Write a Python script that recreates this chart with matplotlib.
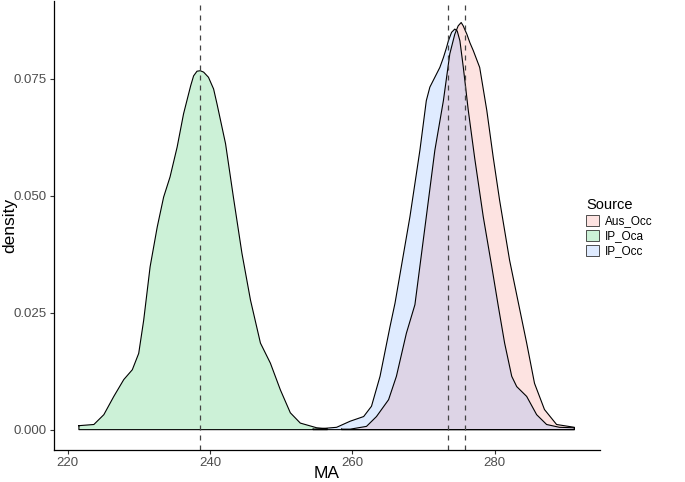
import matplotlib
matplotlib.use("Agg")
import matplotlib.pyplot as plt
from matplotlib.patches import Patch

plt.rcParams['font.family'] = ['Liberation Sans', 'DejaVu Sans']

# ---- data ----
sources = ["Aus_Occ", "IP_Oca", "IP_Occ"]

aus_x = [258.5, 259.7, 262.0, 263.4, 265.1, 266.2, 267.6, 268.8, 270.4, 271.6, 272.8, 273.7,
         274.4, 274.88, 275.3, 275.58, 276.1, 276.52, 277.0, 277.9, 278.9, 279.8, 280.7, 282.1,
         283.4, 284.5, 285.6, 287.0, 288.7, 291.2]
aus_d = [0.0001, 0.0001, 0.0007, 0.0028, 0.0064, 0.0114, 0.0206, 0.0267, 0.0455, 0.0597, 0.0703,
         0.0803, 0.0845, 0.0863, 0.0870, 0.0863, 0.0845, 0.0827, 0.0810, 0.0774, 0.0682, 0.0582,
         0.0490, 0.0362, 0.0266, 0.0185, 0.0099, 0.0043, 0.0011, 0.0005]

oca_x = [221.6, 223.7, 225.1, 226.5, 227.9, 229.1, 230.0, 230.7, 231.6, 232.6, 233.5, 234.4,
         235.4, 236.3, 237.3, 237.71, 238.19, 238.65, 239.12, 239.8, 240.52, 241.0, 242.2, 243.3,
         244.5, 245.7, 247.1, 248.5, 249.9, 251.3, 252.7, 255.0, 256.5]
oca_d = [0.00085, 0.0011, 0.0032, 0.0071, 0.0107, 0.0128, 0.0163, 0.0234, 0.0348, 0.0433, 0.0497,
         0.0540, 0.0604, 0.0675, 0.0735, 0.0756, 0.0766, 0.0767, 0.0764, 0.0753, 0.0728, 0.0696,
         0.0611, 0.0497, 0.0377, 0.0277, 0.0185, 0.0142, 0.0085, 0.0036, 0.0014, 0.0004, 0.0002]

occ_x = [254.5, 255.5, 257.8, 259.7, 261.6, 262.7, 263.9, 265.3, 266.0, 268.1, 269.5, 270.4,
         270.9, 271.6, 272.3, 272.8, 273.25, 273.5, 273.95, 274.4, 274.74, 275.12, 275.6, 276.3,
         277.2, 278.4, 279.6, 280.5, 281.4, 282.4, 283.1, 284.5, 285.9, 287.3, 289.1, 291.2]
occ_d = [0.0001, 0.0002, 0.0005, 0.0018, 0.0028, 0.0050, 0.0114, 0.0220, 0.0270, 0.0455, 0.0597,
         0.0703, 0.0732, 0.0753, 0.0774, 0.0795, 0.0817, 0.0831, 0.0849, 0.0856, 0.0852, 0.0831,
         0.0774, 0.0682, 0.0580, 0.0455, 0.0348, 0.0265, 0.0185, 0.0114, 0.0092, 0.0071, 0.0032,
         0.0011, 0.0005, 0.0004]

means = [275.9, 238.6, 273.4]

x_ticks = [220, 240, 260, 280]
y_ticks = [0.000, 0.025, 0.050, 0.075]

colors = ["#F8766D", "#00BA38", "#619CFF"]
alpha = 0.2

fig = plt.figure(figsize=(6.85, 4.82), dpi=100)
ax = fig.add_axes([54 / 685, 1 - 450 / 482, (600 - 54) / 685, (450 - 1) / 482])

curves = [(aus_x, aus_d), (oca_x, oca_d), (occ_x, occ_d)]
for (xs, ds), c in zip(curves, colors):
    ax.fill(xs + [xs[-1], xs[0]], ds + [0, 0], facecolor=c, alpha=alpha, edgecolor='none')
    ax.plot(xs + [xs[-1], xs[0], xs[0]], ds + [0, 0, ds[0]], color='black', lw=0.8,
            solid_joinstyle='round')

for m in means:
    ax.axvline(m, color='#444444', lw=0.9, linestyle=(0, (4, 4)))

ax.set_xlim(218.1, 294.8)
ax.set_ylim(-0.00435, 0.0916)
ax.set_xticks(x_ticks)
ax.set_yticks(y_ticks)
ax.set_yticklabels([f"{v:.3f}" for v in y_ticks])
for s in ['top', 'right']:
    ax.spines[s].set_visible(False)
for s in ['left', 'bottom']:
    ax.spines[s].set_linewidth(0.9)
    ax.spines[s].set_color('black')
ax.tick_params(axis='both', length=3, width=0.8, color='#333333', labelcolor='#4D4D4D',
               labelsize=9.5, pad=2)
ax.set_xlabel("MA", fontsize=12.5, color='black', va='center')
ax.xaxis.set_label_coords(0.5, (450 - 474) / 449)
ax.set_ylabel("density", fontsize=12.5, color='black', va='center')
ax.yaxis.set_label_coords((10 - 54) / 546, 0.5)

handles = [Patch(facecolor=(*matplotlib.colors.to_rgb(c), alpha), edgecolor='#333333', lw=0.6)
           for c in colors]
leg = fig.legend(handles, sources, title="Source", loc='upper left',
                 bbox_to_anchor=(578 / 685, 1 - 190 / 482), frameon=False,
                 fontsize=8.5, title_fontsize=10.5, handlelength=1.1, handleheight=1.1,
                 handletextpad=0.45, labelspacing=0.2, borderpad=0.2)
leg._legend_box.align = "left"

fig.savefig("out.png", dpi=100)
